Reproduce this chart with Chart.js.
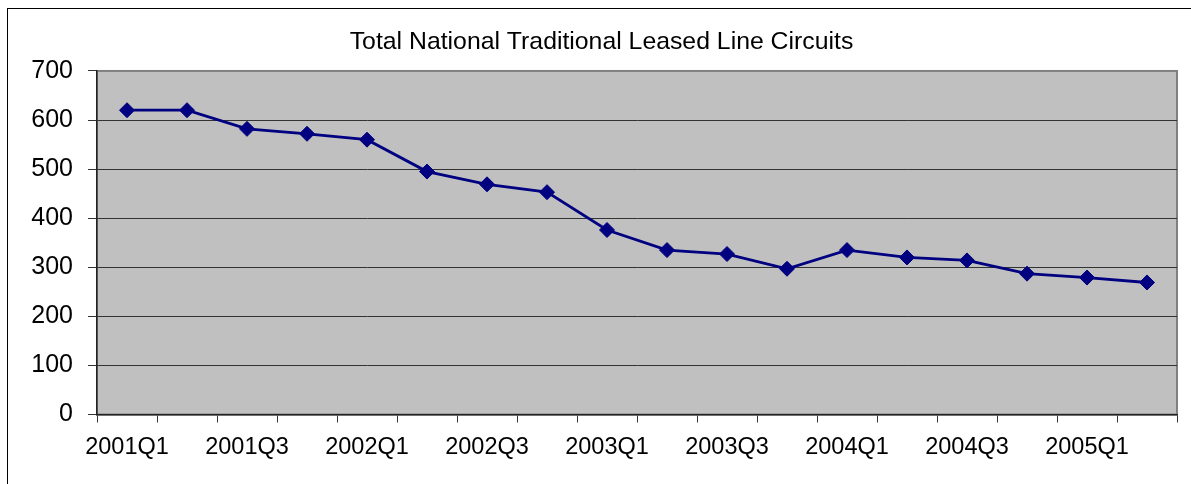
<!DOCTYPE html>
<html>
<head>
<meta charset="utf-8">
<script src="https://cdn.jsdelivr.net/npm/chart.js@4/dist/chart.umd.min.js"></script>
<style>
  html, body { margin: 0; padding: 0; background: #fff; }
  #wrap { position: relative; width: 1191px; height: 484px; overflow: hidden; }
  #frame { position: absolute; left: 7px; top: 8px; width: 1300px; height: 600px;
           border-left: 1.5px solid #000; border-top: 1.5px solid #000; box-sizing: border-box; }
  canvas { position: absolute; left: 0; top: 0; }
</style>
</head>
<body>
<div id="wrap">
  <div id="frame"></div>
  <canvas id="c" width="1191" height="484"></canvas>
</div>
<script>
const titleText = "Total National Traditional Leased Line Circuits";
const categories = ["2001Q1","2001Q2","2001Q3","2001Q4","2002Q1","2002Q2","2002Q3","2002Q4",
                    "2003Q1","2003Q2","2003Q3","2003Q4","2004Q1","2004Q2","2004Q3","2004Q4",
                    "2005Q1","2005Q2"];
const circuits = [620, 620, 582, 572, 560, 495, 469, 453, 376, 335, 327, 297, 335, 320, 314, 287, 279, 269];
const yTicks = [0, 100, 200, 300, 400, 500, 600, 700];

const plotBg = {
  id: 'plotBg',
  beforeDraw(chart) {
    const a = chart.chartArea, ctx = chart.ctx;
    ctx.save();
    ctx.fillStyle = '#C0C0C0';
    ctx.fillRect(a.left, a.top, a.right - a.left, a.bottom - a.top);
    ctx.strokeStyle = '#808080';
    ctx.lineWidth = 2;
    ctx.strokeRect(a.left, a.top, a.right - a.left, a.bottom - a.top);
    ctx.restore();
  }
};

new Chart(document.getElementById('c'), {
  type: 'line',
  data: {
    labels: categories,
    datasets: [{
      data: circuits,
      borderColor: '#000080',
      backgroundColor: '#000080',
      borderWidth: 2.8,
      pointStyle: 'rectRot',
      pointRadius: 7.5,
      pointBorderWidth: 1,
      pointBackgroundColor: '#000080',
      pointBorderColor: '#000080',
      tension: 0
    }]
  },
  options: {
    responsive: false,
    animation: false,
    devicePixelRatio: 1,
    layout: { padding: { left: 26, right: 14, top: 0, bottom: 0 } },
    plugins: {
      legend: { display: false },
      tooltip: { enabled: false },
      title: {
        display: true,
        text: titleText,
        color: '#000',
        font: { family: 'Liberation Sans, Arial, sans-serif', size: 24.8, weight: 'normal' },
        padding: { top: 27, bottom: 14.2 }
      }
    },
    scales: {
      x: {
        type: 'category',
        offset: true,
        grid: { display: true, offset: true, drawOnChartArea: false, drawTicks: true, tickLength: 8, color: '#333', tickColor: '#333' },
        border: { display: true, color: '#222', width: 1.5 },
        ticks: {
          autoSkip: false, maxRotation: 0, minRotation: 0, padding: 11,
          color: '#000',
          font: { family: 'Liberation Sans, Arial, sans-serif', size: 23.5 },
          callback: function(v, i) { return i % 2 === 0 ? categories[i] : ''; }
        },
        afterFit(s) { s.height = 69.5; }
      },
      y: {
        min: 0, max: 700,
        afterBuildTicks(s) { s.ticks = yTicks.map(v => ({ value: v })); },
        grid: {
          color: (c) => (c.tick && c.tick.value === 700) ? 'rgba(0,0,0,0)' : '#333',
          tickColor: '#333', tickLength: 9, lineWidth: 1
        },
        border: { display: true, color: '#222', width: 1.5 },
        ticks: {
          padding: 15, color: '#000',
          font: { family: 'Liberation Sans, Arial, sans-serif', size: 25 }
        },
        afterFit(s) { s.width = 71; }
      }
    }
  },
  plugins: [plotBg]
});
</script>
</body>
</html>
